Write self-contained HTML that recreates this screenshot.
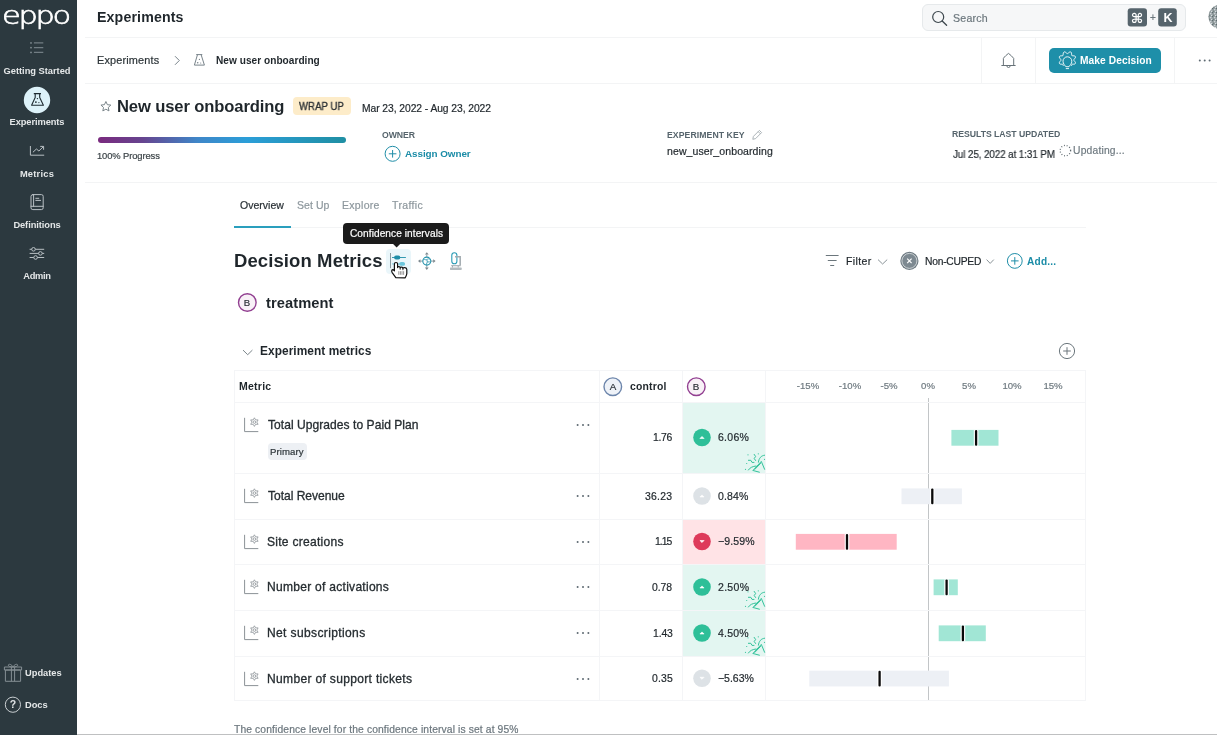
<!DOCTYPE html>
<html><head><meta charset="utf-8"><title>Eppo - New user onboarding</title>
<style>
html,body{margin:0;padding:0}
body{width:1217px;height:735px;overflow:hidden;position:relative;background:#fff;font-family:'Liberation Sans',sans-serif}
.t{position:absolute;white-space:nowrap;line-height:normal;will-change:transform}
svg{position:absolute;overflow:visible}
</style></head><body>
<div style="position:absolute;left:0px;top:0px;width:77px;height:735px;background:#2c393f"></div>
<svg style="left:0;top:0" width="77" height="300" viewBox="0 0 77 300">
<g fill="#717d83"><rect x="30" y="42.2" width="2" height="1.5"/><rect x="30" y="46.9" width="2" height="1.5"/><rect x="30" y="51.7" width="2" height="1.5"/></g>
<g stroke="#717d83" stroke-width="1.2"><path d="M33.9 42.9H43.3M33.9 47.6H43.3M33.9 52.4H43.3"/></g>
<circle cx="37" cy="100" r="13.2" fill="#ddf2f9"/>
<g fill="none" stroke="#1d2a30" stroke-width="1.1" stroke-linejoin="round"><path d="M33.8 93.6H41 M35.2 93.6V97.6L31.6 105.2H43.4L39.7 97.6V93.6"/></g>
<g fill="#1d2a30"><circle cx="37.4" cy="98.6" r="0.7"/><circle cx="35.9" cy="102.1" r="0.9"/><circle cx="38.9" cy="102.6" r="0.6"/></g>
<g fill="none" stroke="#b9c0c4" stroke-width="1" stroke-linecap="round" stroke-linejoin="round">
<path d="M30.4 146.4V155.2H43.8"/><path d="M33.2 152L36.4 149L38.9 151L43.2 146.8M40.6 146.4H43.6V149.4"/>
<rect x="31" y="194.6" width="12.2" height="15" rx="1.8"/><path d="M33.6 194.6V206.3M31 206.3H43.2M35.8 198.3H38.8M35.8 200.4H40.6"/>
<path d="M30 249.3H43.8M30 253.4H43.8M30 257.5H43.8"/>
</g>
<g fill="#2c393f" stroke="#b9c0c4" stroke-width="1"><circle cx="33.5" cy="249.3" r="1.8"/><circle cx="40.4" cy="253.4" r="1.8"/><circle cx="35.6" cy="257.5" r="1.8"/></g>
</svg>
<svg style="left:0;top:650" width="77" height="80" viewBox="0 650 77 80">
<g fill="none" stroke="#858f94" stroke-width="1" stroke-linejoin="round">
<rect x="4.4" y="667" width="17.2" height="3"/><rect x="5.4" y="670" width="15.2" height="11.3"/>
<path d="M11.4 667V681.3M14.6 667V681.3"/>
<path d="M13 667C11.5 664.2 9.2 663.8 8.4 664.8C7.8 665.8 9.5 667 13 667C16.5 667 18.2 665.8 17.6 664.8C16.8 663.8 14.5 664.2 13 667"/>
<circle cx="12.9" cy="704.7" r="7.6" stroke="#c9ced1"/>
</g></svg>
<div style="position:absolute;left:85px;top:37px;width:1132px;height:1px;background:#f3f4f5"></div>
<div style="position:absolute;left:922px;top:4px;width:264px;height:27px;background:#f6f7f8;border:1px solid #e6e9eb;border-radius:6px;box-sizing:border-box"></div>
<svg style="left:900;top:0" width="317" height="40" viewBox="900 0 317 40">
<circle cx="938.2" cy="17" r="5.5" fill="none" stroke="#3d474d" stroke-width="1.2"/><path d="M942.2 21L946.6 25.3" stroke="#3d474d" stroke-width="1.3" stroke-linecap="round"/>
<rect x="1127.7" y="8.2" width="19.3" height="18.4" rx="3" fill="#56646c"/>
<rect x="1158.2" y="8.2" width="18.6" height="18.4" rx="3" fill="#56646c"/>
<defs><pattern id="spk" width="4" height="4" patternUnits="userSpaceOnUse"><rect width="4" height="4" fill="#9aa3a6"/><rect width="1.3" height="1.3" fill="#5f6d70"/><rect x="2" y="1" width="1.3" height="1.3" fill="#cfd6d8"/><rect x="1" y="2.6" width="1.3" height="1.3" fill="#6f7d7c"/><rect x="3" y="3" width="1" height="1" fill="#d8dfe1"/></pattern></defs>
<circle cx="1220.8" cy="16.8" r="12.3" fill="url(#spk)"/>
</svg>
<div style="position:absolute;left:981px;top:37px;width:1px;height:46px;background:#f3f4f5"></div>
<div style="position:absolute;left:1035px;top:37px;width:1px;height:46px;background:#f3f4f5"></div>
<div style="position:absolute;left:1174px;top:37px;width:1px;height:46px;background:#f3f4f5"></div>
<div style="position:absolute;left:1049px;top:47.5px;width:112px;height:25.3px;background:#1e8fa9;border-radius:5px"></div>
<div style="position:absolute;left:85px;top:83px;width:1132px;height:1px;background:#f3f4f5"></div>
<svg style="left:0;top:0" width="1217" height="300" viewBox="0 0 1217 300">
<path d="M175 56.2L179.3 60.5L175 64.8" fill="none" stroke="#78838a" stroke-width="1"/>
<g fill="none" stroke="#78838a" stroke-width="1" stroke-linejoin="round"><path d="M196.2 54.6H202.3 M197.5 54.6L194.4 65.1H204.4L201.1 54.6"/></g>
<g fill="#78838a"><circle cx="199.4" cy="59.4" r="0.6"/><circle cx="197.7" cy="62.7" r="0.8"/><circle cx="200.7" cy="63" r="0.6"/></g>
<g fill="none" stroke="#687379" stroke-width="1" stroke-linejoin="round"><path d="M1001.4 65.5H1015.6M1003.4 65.5V58.4C1004.6 56.4 1006.6 55 1008.5 53.4C1010.4 55 1012.4 56.4 1013.7 58.4V65.5M1006.9 65.9A1.6 1.6 0 0 0 1010.1 65.9"/></g>
<g fill="none" stroke="#ffffff" stroke-width="0.9" stroke-linejoin="round" stroke-linecap="round"><path d="M1063.2 65.4 L1063.1 64.7 L1062.7 64.4 L1062.1 64.2 L1061.2 64.2 L1060.3 64.1 L1059.6 63.7 L1059.3 63.1 L1059.4 62.4 L1059.9 61.6 L1060.5 60.9 L1060.9 60.4 L1061.0 59.9 L1060.7 59.3 L1060.2 58.7 L1059.6 58.0 L1059.3 57.2 L1059.4 56.5 L1060.0 56.1 L1060.8 55.8 L1061.7 55.8 L1062.5 55.7 L1063.0 55.5 L1063.1 54.9 L1063.2 54.1 L1063.3 53.2 L1063.6 52.4 L1064.1 51.9 L1064.8 51.9 L1065.6 52.3 L1066.3 52.9 L1066.9 53.4 L1067.4 53.6 L1067.9 53.4 L1068.5 52.9 L1069.2 52.3 L1070.0 51.9 L1070.7 51.9 L1071.2 52.4 L1071.5 53.2 L1071.6 54.1 L1071.7 54.9 L1071.8 55.5 L1072.3 55.7 L1073.1 55.8 L1074.0 55.8 L1074.8 56.1 L1075.4 56.5 L1075.5 57.2 L1075.2 58.0 L1074.6 58.7 L1074.1 59.3 L1073.8 59.9 L1073.9 60.4 L1074.3 60.9 L1074.9 61.6 L1075.4 62.4 L1075.5 63.1 L1075.2 63.7 L1074.5 64.1 L1073.6 64.2 L1072.7 64.2 L1072.1 64.4 L1071.7 64.7 L1071.6 65.4"/>
<path d="M1065.6 66.4L1064.2 64.6C1063.4 63.6 1063 62.4 1063 61.2A4.4 4.4 0 0 1 1071.8 61.2C1071.8 62.4 1071.4 63.6 1070.6 64.6L1069.2 66.4Z"/>
<path d="M1066.2 68.6H1068.6"/></g>
<g fill="#5e6a72"><circle cx="1199.8" cy="60.4" r="1"/><circle cx="1204.7" cy="60.4" r="1"/><circle cx="1209.6" cy="60.4" r="1"/></g>
</svg>
<svg style="left:0;top:0" width="1217" height="300" viewBox="0 0 1217 300">
<path d="M105.90 101.50L107.37 104.68L110.85 105.09L108.28 107.47L108.96 110.91L105.90 109.20L102.84 110.91L103.52 107.47L100.95 105.09L104.43 104.68Z" fill="none" stroke="#7a858a" stroke-width="1" stroke-linejoin="round"/>
<defs><linearGradient id="pg" x1="0" x2="1"><stop offset="0" stop-color="#7a2a7e"/><stop offset="0.18" stop-color="#66448f"/><stop offset="0.4" stop-color="#3f86c8"/><stop offset="0.6" stop-color="#2b9ed8"/><stop offset="1" stop-color="#1f8fa3"/></linearGradient></defs>
<rect x="98" y="137" width="248" height="6" rx="3" fill="url(#pg)"/>
<circle cx="392.6" cy="153.8" r="7.5" fill="none" stroke="#1f8ea8" stroke-width="1"/><path d="M388.8 153.8H396.4M392.6 150V157.6" stroke="#1f8ea8" stroke-width="1"/>
<path d="M752.8 139.3L753.4 136.4L759.4 130.4L761.6 132.6L755.6 138.6Z M758.2 131.6L760.4 133.8" fill="none" stroke="#a3abb0" stroke-width="0.9" stroke-linejoin="round"/>
<circle cx="1065.4" cy="150.6" r="5.2" fill="none" stroke="#5c676d" stroke-width="1.3" stroke-dasharray="0.9 1.9"/>
</svg>
<div style="position:absolute;left:293.2px;top:96.9px;width:57.5px;height:18.4px;background:#fdecc9;border-radius:4px"></div>
<div style="position:absolute;left:85px;top:182px;width:1132px;height:1px;background:#f3f4f5"></div>
<div style="position:absolute;left:234px;top:227px;width:852px;height:1px;background:#f3f4f5"></div>
<div style="position:absolute;left:234px;top:226px;width:57px;height:2px;background:#2a9fbd"></div>
<div style="position:absolute;left:385.7px;top:248.7px;width:25.3px;height:24.9px;background:#eaf6fa;border-radius:4px"></div>
<svg style="left:0;top:0" width="1217" height="400" viewBox="0 0 1217 400">
<path d="M390.5 253V268.2" stroke="#8a9aa0" stroke-width="1"/>
<path d="M392 257.5H405.9" stroke="#1f8ea8" stroke-width="0.9"/><rect x="394.1" y="255.6" width="6.2" height="3.8" rx="1.9" fill="#1f8ea8"/>
<path d="M392 263.9H405" stroke="#6cc6dc" stroke-width="0.9"/><rect x="399.2" y="262" width="5.8" height="3.8" rx="1.9" fill="#6cc6dc"/>
<path d="M395.8 277.6L392.2 272.6C391.2 271.1 391.8 269.4 393.2 269.7L394.4 270.8V263.9C394.4 262 397.6 262 397.6 263.9V267.6C397.6 266.3 400.2 266.3 400.2 267.8V268C400.2 266.7 402.9 266.7 402.9 268.2V268.6C403 267.1 406.8 267.2 406.8 269.6V273.6C406.8 275.4 405.8 276.5 405.2 277.8Z" fill="#fff" stroke="#111" stroke-width="1.2" stroke-linejoin="round"/>
<path d="M398.8 271.2V274.8M400.4 271.2V274.8M402 271.2V274.8M403.6 271.2V274.8" stroke="#8a8a8a" stroke-width="0.9"/>
<path d="M400.2 268V269.8M402.9 268.4V270.2" stroke="#111" stroke-width="0.8"/>
<path d="M420 261.1H422.6M431 261.1H433.6M426.8 254.4V256.9M426.8 265.3V267.8" stroke="#8a969c" stroke-width="0.9"/>
<path d="M418 261.1L420.4 259.2V263Z M435.6 261.1L433.2 259.2V263Z M426.8 252.2L424.9 254.6H428.7Z M426.8 270L424.9 267.6H428.7Z" fill="#7d898f"/>
<circle cx="426.8" cy="261.1" r="4" fill="none" stroke="#2391ab" stroke-width="1.1"/>
<path d="M423.4 259.8C424.6 258.6 425.8 260.6 426.9 259.6C427.9 258.7 428.9 258.5 430 259.4M426.9 259.6L427.3 261.9H429.8M427.3 261.9L426.2 264.9" fill="none" stroke="#2391ab" stroke-width="0.8"/>
<rect x="451.8" y="252.7" width="5.1" height="11" rx="2.55" fill="none" stroke="#2a9bb5" stroke-width="1.1"/>
<path d="M455 256.7H460.2V265.2" fill="none" stroke="#a2abb0" stroke-width="1.5"/>
<path d="M451.2 265.7H460.8" stroke="#a2abb0" stroke-width="1.1"/>
<path d="M452.5 265.7V267.6M458.2 265.7V267.6" stroke="#a2abb0" stroke-width="1"/>
<rect x="450" y="267.6" width="11.7" height="2.3" rx="0.6" fill="#b3babe"/>
<path d="M392.6 243.6H400.6L396.6 247.6Z" fill="#1b1b1b"/>
<path d="M825.8 255.5H838.6M827.8 260.5H836.6M830.2 265.5H834.2" stroke="#6b767c" stroke-width="1"/>
<path d="M878 259.6L882.6 264L887.2 259.6M986.6 259.6L990.2 263.4L993.8 259.6" fill="none" stroke="#7d878c" stroke-width="0.9"/>
<circle cx="909.4" cy="260.9" r="9.1" fill="#6e7a82"/>
<circle cx="909.4" cy="260.9" r="7.5" fill="#7d8991" stroke="#e3e7e9" stroke-width="0.8"/>
<path d="M907.2 258.7L911.6 263.1M911.6 258.7L907.2 263.1" stroke="#fff" stroke-width="1.2"/>
<circle cx="1014.8" cy="260.9" r="7.4" fill="none" stroke="#1f8ea8" stroke-width="1"/><path d="M1011 260.9H1018.6M1014.8 257.1V264.7" stroke="#1f8ea8" stroke-width="1"/>
<circle cx="247.3" cy="302.5" r="8.8" fill="#f8f1f7" stroke="#913e90" stroke-width="1.4"/>
<path d="M243 350.1L247.7 354.7L252.4 350.1" fill="none" stroke="#6b767c" stroke-width="0.9"/>
<circle cx="1067" cy="351" r="7.6" fill="none" stroke="#6c777d" stroke-width="1"/><path d="M1063.2 351H1070.8M1067 347.2V354.8" stroke="#6c777d" stroke-width="1"/>
</svg>
<div style="position:absolute;left:343.3px;top:222.9px;width:105.6px;height:20.7px;background:#1b1b1b;border-radius:4px"></div>
<div style="position:absolute;left:683px;top:403px;width:82px;height:70px;background:#e3f6f1"></div>
<div style="position:absolute;left:683px;top:520px;width:82px;height:44px;background:#ffe3e6"></div>
<div style="position:absolute;left:683px;top:565px;width:82px;height:45px;background:#e3f6f1"></div>
<div style="position:absolute;left:683px;top:611px;width:82px;height:45px;background:#e3f6f1"></div>
<div style="position:absolute;left:928px;top:398px;width:1px;height:303px;background:#c2c5c7"></div>
<div style="position:absolute;left:234px;top:370px;width:852px;height:331px;border:1px solid #f4f5f7;box-sizing:border-box"></div>
<div style="position:absolute;left:599px;top:370px;width:1px;height:331px;background:#f4f5f7"></div>
<div style="position:absolute;left:682px;top:370px;width:1px;height:331px;background:#f4f5f7"></div>
<div style="position:absolute;left:765px;top:370px;width:1px;height:331px;background:#f4f5f7"></div>
<div style="position:absolute;left:234px;top:402px;width:852px;height:1px;background:#f4f5f7"></div>
<div style="position:absolute;left:234px;top:473px;width:852px;height:1px;background:#f4f5f7"></div>
<div style="position:absolute;left:234px;top:519px;width:852px;height:1px;background:#f4f5f7"></div>
<div style="position:absolute;left:234px;top:564px;width:852px;height:1px;background:#f4f5f7"></div>
<div style="position:absolute;left:234px;top:610px;width:852px;height:1px;background:#f4f5f7"></div>
<div style="position:absolute;left:234px;top:656px;width:852px;height:1px;background:#f4f5f7"></div>
<svg style="left:0;top:0" width="1217" height="735" viewBox="0 0 1217 735"><circle cx="612.8" cy="386.7" r="8.8" fill="#eef2f8" stroke="#6c85ab" stroke-width="1.4"/><circle cx="696.3" cy="386.7" r="8.8" fill="#f8f1f7" stroke="#913e90" stroke-width="1.4"/><path d="M244.6 417.8V431.6H258.3" fill="none" stroke="#8c9297" stroke-width="1"/><g transform="translate(254.4 422.1)" fill="none" stroke="#8c9297" stroke-width="0.8"><path d="M0 -4.3L1.2 -2.2L3.7 -2.2L2.4 0L3.7 2.2L1.2 2.2L0 4.3L-1.2 2.2L-3.7 2.2L-2.4 0L-3.7 -2.2L-1.2 -2.2Z"/><circle r="1.3"/></g><circle cx="577.6" cy="425.0" r="1" fill="#5e6a72"/><circle cx="583" cy="425.0" r="1" fill="#5e6a72"/><circle cx="588.4" cy="425.0" r="1" fill="#5e6a72"/><circle cx="702" cy="437.50" r="8.8" fill="#2ebf98"/><path d="M699.9 438.50L702 436.40L704.1 438.50Z" fill="#fff" stroke="#fff" stroke-width="0.6" stroke-linejoin="round"/><rect x="951.4" y="429.90" width="47.1" height="15.8" fill="#a1e6d5"/><rect x="973.8" y="429.90" width="4.6" height="15.8" fill="#fff"/><rect x="974.95" y="430.00" width="2.3" height="15.8" rx="1.1" fill="#0a0a0a"/><g transform="translate(742 449.0)" fill="none" stroke="#33c29b" stroke-width="1" stroke-linecap="round" stroke-linejoin="round"><path d="M6.4 21C7.8 18.6 10.6 17.4 14 17M11 21.4L19.3 12.4L22.6 20.3M11.4 21.6L17.4 23.2M12.8 20.4L18.6 14.4M16.4 13.2C16.9 9.2 19 6.6 22.6 6.2M12.2 5.4L13.6 7.5L12.2 9.5L13.6 11.5M6.4 11.3H8.8L10 13.4H12"/></g><g fill="#33c29b" transform="translate(742 449.0)"><circle cx="6" cy="5.8" r="0.6"/><circle cx="16.3" cy="4.8" r="0.6"/><circle cx="22.5" cy="10.3" r="0.6"/><circle cx="4.7" cy="14.5" r="0.6"/><circle cx="3.5" cy="20.3" r="0.6"/></g><path d="M244.6 488.8V502.6H258.3" fill="none" stroke="#8c9297" stroke-width="1"/><g transform="translate(254.4 493.1)" fill="none" stroke="#8c9297" stroke-width="0.8"><path d="M0 -4.3L1.2 -2.2L3.7 -2.2L2.4 0L3.7 2.2L1.2 2.2L0 4.3L-1.2 2.2L-3.7 2.2L-2.4 0L-3.7 -2.2L-1.2 -2.2Z"/><circle r="1.3"/></g><circle cx="577.6" cy="496.0" r="1" fill="#5e6a72"/><circle cx="583" cy="496.0" r="1" fill="#5e6a72"/><circle cx="588.4" cy="496.0" r="1" fill="#5e6a72"/><circle cx="702" cy="496.00" r="8.8" fill="#dde2e6"/><path d="M699.9 497.00L702 494.90L704.1 497.00Z" fill="#fff" stroke="#fff" stroke-width="0.6" stroke-linejoin="round"/><rect x="901.5" y="488.40" width="60.4" height="15.8" fill="#edf0f5"/><rect x="930.0" y="488.40" width="4.6" height="15.8" fill="#fff"/><rect x="931.15" y="488.50" width="2.3" height="15.8" rx="1.1" fill="#0a0a0a"/><path d="M244.6 534.8V548.6H258.3" fill="none" stroke="#8c9297" stroke-width="1"/><g transform="translate(254.4 539.1)" fill="none" stroke="#8c9297" stroke-width="0.8"><path d="M0 -4.3L1.2 -2.2L3.7 -2.2L2.4 0L3.7 2.2L1.2 2.2L0 4.3L-1.2 2.2L-3.7 2.2L-2.4 0L-3.7 -2.2L-1.2 -2.2Z"/><circle r="1.3"/></g><circle cx="577.6" cy="542.0" r="1" fill="#5e6a72"/><circle cx="583" cy="542.0" r="1" fill="#5e6a72"/><circle cx="588.4" cy="542.0" r="1" fill="#5e6a72"/><circle cx="702" cy="541.50" r="8.8" fill="#de3a5a"/><path d="M699.9 540.50L702 542.60L704.1 540.50Z" fill="#fff" stroke="#fff" stroke-width="0.6" stroke-linejoin="round"/><rect x="795.8" y="533.90" width="100.9" height="15.8" fill="#ffb6c3"/><rect x="844.7" y="533.90" width="4.6" height="15.8" fill="#fff"/><rect x="845.85" y="534.00" width="2.3" height="15.8" rx="1.1" fill="#0a0a0a"/><path d="M244.6 579.8V593.6H258.3" fill="none" stroke="#8c9297" stroke-width="1"/><g transform="translate(254.4 584.1)" fill="none" stroke="#8c9297" stroke-width="0.8"><path d="M0 -4.3L1.2 -2.2L3.7 -2.2L2.4 0L3.7 2.2L1.2 2.2L0 4.3L-1.2 2.2L-3.7 2.2L-2.4 0L-3.7 -2.2L-1.2 -2.2Z"/><circle r="1.3"/></g><circle cx="577.6" cy="587.0" r="1" fill="#5e6a72"/><circle cx="583" cy="587.0" r="1" fill="#5e6a72"/><circle cx="588.4" cy="587.0" r="1" fill="#5e6a72"/><circle cx="702" cy="587.00" r="8.8" fill="#2ebf98"/><path d="M699.9 588.00L702 585.90L704.1 588.00Z" fill="#fff" stroke="#fff" stroke-width="0.6" stroke-linejoin="round"/><rect x="933.6" y="579.40" width="24.2" height="15.8" fill="#a1e6d5"/><rect x="944.3" y="579.40" width="4.6" height="15.8" fill="#fff"/><rect x="945.45" y="579.50" width="2.3" height="15.8" rx="1.1" fill="#0a0a0a"/><g transform="translate(742 586.0)" fill="none" stroke="#33c29b" stroke-width="1" stroke-linecap="round" stroke-linejoin="round"><path d="M6.4 21C7.8 18.6 10.6 17.4 14 17M11 21.4L19.3 12.4L22.6 20.3M11.4 21.6L17.4 23.2M12.8 20.4L18.6 14.4M16.4 13.2C16.9 9.2 19 6.6 22.6 6.2M12.2 5.4L13.6 7.5L12.2 9.5L13.6 11.5M6.4 11.3H8.8L10 13.4H12"/></g><g fill="#33c29b" transform="translate(742 586.0)"><circle cx="6" cy="5.8" r="0.6"/><circle cx="16.3" cy="4.8" r="0.6"/><circle cx="22.5" cy="10.3" r="0.6"/><circle cx="4.7" cy="14.5" r="0.6"/><circle cx="3.5" cy="20.3" r="0.6"/></g><path d="M244.6 625.8V639.6H258.3" fill="none" stroke="#8c9297" stroke-width="1"/><g transform="translate(254.4 630.1)" fill="none" stroke="#8c9297" stroke-width="0.8"><path d="M0 -4.3L1.2 -2.2L3.7 -2.2L2.4 0L3.7 2.2L1.2 2.2L0 4.3L-1.2 2.2L-3.7 2.2L-2.4 0L-3.7 -2.2L-1.2 -2.2Z"/><circle r="1.3"/></g><circle cx="577.6" cy="633.0" r="1" fill="#5e6a72"/><circle cx="583" cy="633.0" r="1" fill="#5e6a72"/><circle cx="588.4" cy="633.0" r="1" fill="#5e6a72"/><circle cx="702" cy="633.00" r="8.8" fill="#2ebf98"/><path d="M699.9 634.00L702 631.90L704.1 634.00Z" fill="#fff" stroke="#fff" stroke-width="0.6" stroke-linejoin="round"/><rect x="938.7" y="625.40" width="47.1" height="15.8" fill="#a1e6d5"/><rect x="960.6" y="625.40" width="4.6" height="15.8" fill="#fff"/><rect x="961.75" y="625.50" width="2.3" height="15.8" rx="1.1" fill="#0a0a0a"/><g transform="translate(742 632.0)" fill="none" stroke="#33c29b" stroke-width="1" stroke-linecap="round" stroke-linejoin="round"><path d="M6.4 21C7.8 18.6 10.6 17.4 14 17M11 21.4L19.3 12.4L22.6 20.3M11.4 21.6L17.4 23.2M12.8 20.4L18.6 14.4M16.4 13.2C16.9 9.2 19 6.6 22.6 6.2M12.2 5.4L13.6 7.5L12.2 9.5L13.6 11.5M6.4 11.3H8.8L10 13.4H12"/></g><g fill="#33c29b" transform="translate(742 632.0)"><circle cx="6" cy="5.8" r="0.6"/><circle cx="16.3" cy="4.8" r="0.6"/><circle cx="22.5" cy="10.3" r="0.6"/><circle cx="4.7" cy="14.5" r="0.6"/><circle cx="3.5" cy="20.3" r="0.6"/></g><path d="M244.6 671.8V685.6H258.3" fill="none" stroke="#8c9297" stroke-width="1"/><g transform="translate(254.4 676.1)" fill="none" stroke="#8c9297" stroke-width="0.8"><path d="M0 -4.3L1.2 -2.2L3.7 -2.2L2.4 0L3.7 2.2L1.2 2.2L0 4.3L-1.2 2.2L-3.7 2.2L-2.4 0L-3.7 -2.2L-1.2 -2.2Z"/><circle r="1.3"/></g><circle cx="577.6" cy="679.0" r="1" fill="#5e6a72"/><circle cx="583" cy="679.0" r="1" fill="#5e6a72"/><circle cx="588.4" cy="679.0" r="1" fill="#5e6a72"/><circle cx="702" cy="678.25" r="8.8" fill="#dde2e6"/><path d="M699.9 677.25L702 679.35L704.1 677.25Z" fill="#fff" stroke="#fff" stroke-width="0.6" stroke-linejoin="round"/><rect x="809.3" y="670.65" width="139.6" height="15.8" fill="#edf0f5"/><rect x="877.3" y="670.65" width="4.6" height="15.8" fill="#fff"/><rect x="878.45" y="670.75" width="2.3" height="15.8" rx="1.1" fill="#0a0a0a"/></svg>
<div style="position:absolute;left:267.7px;top:442.8px;width:38.9px;height:17.2px;background:#edf0f4;border-radius:4px"></div>
<div style="position:absolute;left:77px;top:734px;width:1140px;height:1px;background:#bfc0c1"></div>
<div class="t" style="left:2.46px;top:0.70px;font-family:'DejaVu Sans',sans-serif;font-size:25px;font-weight:200;color:#ffffff;letter-spacing:-1.904px;-webkit-text-stroke:0.7px #fff;transform:scaleX(1.22);transform-origin:0 0;">eppo</div>
<div class="t" style="left:-113px;width:300px;text-align:center;top:66.20px;font-family:'Liberation Sans',sans-serif;font-size:9.3px;font-weight:700;color:#e4e7e8;letter-spacing:-0.012px;">Getting Started</div>
<div class="t" style="left:-113px;width:300px;text-align:center;top:117.20px;font-family:'Liberation Sans',sans-serif;font-size:9.3px;font-weight:700;color:#e4e7e8;letter-spacing:-0.082px;">Experiments</div>
<div class="t" style="left:-113px;width:300px;text-align:center;top:168.80px;font-family:'Liberation Sans',sans-serif;font-size:9.3px;font-weight:700;color:#e4e7e8;letter-spacing:0.238px;">Metrics</div>
<div class="t" style="left:-113px;width:300px;text-align:center;top:219.90px;font-family:'Liberation Sans',sans-serif;font-size:9.3px;font-weight:700;color:#e4e7e8;letter-spacing:-0.076px;">Definitions</div>
<div class="t" style="left:-113.5px;width:300px;text-align:center;top:270.90px;font-family:'Liberation Sans',sans-serif;font-size:9.3px;font-weight:700;color:#e4e7e8;letter-spacing:-0.283px;">Admin</div>
<div class="t" style="left:-137.1px;width:300px;text-align:center;top:698.20px;font-family:'Liberation Sans',sans-serif;font-size:10.5px;font-weight:700;color:#dfe3e5;">?</div>
<div class="t" style="left:25.04px;top:667.90px;font-family:'Liberation Sans',sans-serif;font-size:9.3px;font-weight:700;color:#e4e7e8;letter-spacing:0.007px;">Updates</div>
<div class="t" style="left:25.00px;top:699.80px;font-family:'Liberation Sans',sans-serif;font-size:9.3px;font-weight:700;color:#e4e7e8;letter-spacing:-0.054px;">Docs</div>
<div class="t" style="left:97.08px;top:9.20px;font-family:'Liberation Sans',sans-serif;font-size:14.2px;font-weight:700;color:#1f262b;letter-spacing:0.129px;">Experiments</div>
<div class="t" style="left:953.02px;top:11.80px;font-family:'Liberation Sans',sans-serif;font-size:10.6px;font-weight:400;color:#6c777d;letter-spacing:0.223px;-webkit-text-stroke:0.2px #6c777d;">Search</div>
<div class="t" style="left:987.3px;width:300px;text-align:center;top:9.80px;font-family:'DejaVu Sans',sans-serif;font-size:13.5px;font-weight:700;color:#ffffff;">⌘</div>
<div class="t" style="left:1002.5999999999999px;width:300px;text-align:center;top:12.30px;font-family:'Liberation Sans',sans-serif;font-size:10px;font-weight:400;color:#6c777d;-webkit-text-stroke:0.2px #6c777d;">+</div>
<div class="t" style="left:1017.5px;width:300px;text-align:center;top:11.40px;font-family:'Liberation Sans',sans-serif;font-size:12.5px;font-weight:700;color:#ffffff;">K</div>
<div class="t" style="left:97.13px;top:54.10px;font-family:'Liberation Sans',sans-serif;font-size:10.9px;font-weight:400;color:#2c3438;letter-spacing:0.165px;-webkit-text-stroke:0.2px #2c3438;">Experiments</div>
<div class="t" style="left:216.34px;top:55.10px;font-family:'Liberation Sans',sans-serif;font-size:10.1px;font-weight:700;color:#1f262b;letter-spacing:0.033px;">New user onboarding</div>
<div class="t" style="left:1080.14px;top:55.20px;font-family:'Liberation Sans',sans-serif;font-size:10.2px;font-weight:700;color:#ffffff;letter-spacing:0.078px;">Make Decision</div>
<div class="t" style="left:116.52px;top:97.10px;font-family:'Liberation Sans',sans-serif;font-size:16.6px;font-weight:700;color:#1f262b;letter-spacing:-0.127px;">New user onboarding</div>
<div class="t" style="left:299.35px;top:100.20px;font-family:'Liberation Sans',sans-serif;font-size:10.6px;font-weight:400;color:#2b3034;letter-spacing:0.113px;-webkit-text-stroke:0.35px #2b3034;transform:scaleX(0.9);transform-origin:0 0;">WRAP UP</div>
<div class="t" style="left:361.88px;top:103.30px;font-family:'Liberation Sans',sans-serif;font-size:10.3px;font-weight:400;color:#1f262b;letter-spacing:-0.058px;-webkit-text-stroke:0.2px #1f262b;">Mar 23, 2022 - Aug 23, 2022</div>
<div class="t" style="left:97.30px;top:149.60px;font-family:'Liberation Sans',sans-serif;font-size:9.4px;font-weight:400;color:#3b4347;letter-spacing:-0.101px;-webkit-text-stroke:0.2px #3b4347;">100% Progress</div>
<div class="t" style="left:382.45px;top:129.90px;font-family:'Liberation Sans',sans-serif;font-size:8.7px;font-weight:700;color:#56646c;letter-spacing:-0.100px;">OWNER</div>
<div class="t" style="left:405.05px;top:148.10px;font-family:'Liberation Sans',sans-serif;font-size:9.9px;font-weight:700;color:#1b8ca7;letter-spacing:-0.062px;">Assign Owner</div>
<div class="t" style="left:667.23px;top:129.50px;font-family:'Liberation Sans',sans-serif;font-size:8.7px;font-weight:700;color:#56646c;letter-spacing:0.064px;">EXPERIMENT KEY</div>
<div class="t" style="left:667.12px;top:144.50px;font-family:'Liberation Sans',sans-serif;font-size:10.5px;font-weight:400;color:#1f262b;letter-spacing:0.104px;-webkit-text-stroke:0.2px #1f262b;">new_user_onboarding</div>
<div class="t" style="left:952.23px;top:128.70px;font-family:'Liberation Sans',sans-serif;font-size:8.7px;font-weight:700;color:#56646c;letter-spacing:-0.030px;">RESULTS LAST UPDATED</div>
<div class="t" style="left:952.65px;top:148.50px;font-family:'Liberation Sans',sans-serif;font-size:10.3px;font-weight:400;color:#1f262b;letter-spacing:-0.067px;transform:scaleX(0.95);transform-origin:0 0;-webkit-text-stroke:0.2px #1f262b;">Jul 25, 2022 at 1:31 PM</div>
<div class="t" style="left:1073.03px;top:145.30px;font-family:'Liberation Sans',sans-serif;font-size:10.3px;font-weight:400;color:#6f7a80;letter-spacing:0.190px;-webkit-text-stroke:0.2px #6f7a80;">Updating...</div>
<div class="t" style="left:240.33px;top:198.90px;font-family:'Liberation Sans',sans-serif;font-size:10.5px;font-weight:400;color:#2a3136;letter-spacing:0.012px;-webkit-text-stroke:0.2px #2a3136;">Overview</div>
<div class="t" style="left:297.13px;top:198.90px;font-family:'Liberation Sans',sans-serif;font-size:10.5px;font-weight:400;color:#8d979d;letter-spacing:0.063px;-webkit-text-stroke:0.2px #8d979d;">Set Up</div>
<div class="t" style="left:341.86px;top:198.90px;font-family:'Liberation Sans',sans-serif;font-size:10.5px;font-weight:400;color:#8d979d;letter-spacing:0.303px;-webkit-text-stroke:0.2px #8d979d;">Explore</div>
<div class="t" style="left:392.09px;top:198.90px;font-family:'Liberation Sans',sans-serif;font-size:10.5px;font-weight:400;color:#8d979d;letter-spacing:0.360px;-webkit-text-stroke:0.2px #8d979d;">Traffic</div>
<div class="t" style="left:234.00px;top:249.70px;font-family:'Liberation Sans',sans-serif;font-size:18.5px;font-weight:700;color:#1f262b;letter-spacing:0.097px;">Decision Metrics</div>
<div class="t" style="left:349.69px;top:228.10px;font-family:'Liberation Sans',sans-serif;font-size:10.1px;font-weight:400;color:#ffffff;letter-spacing:0.082px;-webkit-text-stroke:0.2px #ffffff;">Confidence intervals</div>
<div class="t" style="left:845.96px;top:254.50px;font-family:'Liberation Sans',sans-serif;font-size:10.5px;font-weight:400;color:#1f262b;letter-spacing:0.358px;-webkit-text-stroke:0.2px #1f262b;">Filter</div>
<div class="t" style="left:925.08px;top:255.50px;font-family:'Liberation Sans',sans-serif;font-size:10.3px;font-weight:400;color:#1f262b;letter-spacing:-0.245px;-webkit-text-stroke:0.2px #1f262b;">Non-CUPED</div>
<div class="t" style="left:1027.35px;top:255.50px;font-family:'Liberation Sans',sans-serif;font-size:10.1px;font-weight:700;color:#1b8ca7;letter-spacing:0.216px;">Add...</div>
<div class="t" style="left:97.4px;width:300px;text-align:center;top:297.00px;font-family:'Liberation Sans',sans-serif;font-size:9.6px;font-weight:400;color:#2a3136;-webkit-text-stroke:0.2px #2a3136;">B</div>
<div class="t" style="left:265.85px;top:294.80px;font-family:'Liberation Sans',sans-serif;font-size:14.7px;font-weight:700;color:#1f262b;letter-spacing:0.067px;">treatment</div>
<div class="t" style="left:260.13px;top:344.00px;font-family:'Liberation Sans',sans-serif;font-size:11.9px;font-weight:700;color:#1f262b;letter-spacing:0.054px;">Experiment metrics</div>
<div class="t" style="left:270.23px;top:445.60px;font-family:'Liberation Sans',sans-serif;font-size:9.6px;font-weight:400;color:#2f373b;letter-spacing:0.083px;-webkit-text-stroke:0.2px #2f373b;">Primary</div>
<div class="t" style="left:239.12px;top:379.70px;font-family:'Liberation Sans',sans-serif;font-size:10.5px;font-weight:700;color:#1f262b;letter-spacing:0.255px;">Metric</div>
<div class="t" style="left:463px;width:300px;text-align:center;top:381.20px;font-family:'Liberation Sans',sans-serif;font-size:9.8px;font-weight:400;color:#2a3136;-webkit-text-stroke:0.2px #2a3136;">A</div>
<div class="t" style="left:630.38px;top:380.60px;font-family:'Liberation Sans',sans-serif;font-size:10.4px;font-weight:700;color:#1f262b;letter-spacing:0.181px;">control</div>
<div class="t" style="left:546.4px;width:300px;text-align:center;top:381.20px;font-family:'Liberation Sans',sans-serif;font-size:9.8px;font-weight:400;color:#2a3136;-webkit-text-stroke:0.2px #2a3136;">B</div>
<div class="t" style="left:658.3px;width:300px;text-align:center;top:380.40px;font-family:'Liberation Sans',sans-serif;font-size:9.6px;font-weight:400;color:#6f7a80;-webkit-text-stroke:0.2px #6f7a80;">-15%</div>
<div class="t" style="left:699.7px;width:300px;text-align:center;top:380.40px;font-family:'Liberation Sans',sans-serif;font-size:9.6px;font-weight:400;color:#6f7a80;-webkit-text-stroke:0.2px #6f7a80;">-10%</div>
<div class="t" style="left:738.6px;width:300px;text-align:center;top:380.40px;font-family:'Liberation Sans',sans-serif;font-size:9.6px;font-weight:400;color:#6f7a80;-webkit-text-stroke:0.2px #6f7a80;">-5%</div>
<div class="t" style="left:778.2px;width:300px;text-align:center;top:380.40px;font-family:'Liberation Sans',sans-serif;font-size:9.6px;font-weight:400;color:#6f7a80;-webkit-text-stroke:0.2px #6f7a80;">0%</div>
<div class="t" style="left:819px;width:300px;text-align:center;top:380.40px;font-family:'Liberation Sans',sans-serif;font-size:9.6px;font-weight:400;color:#6f7a80;-webkit-text-stroke:0.2px #6f7a80;">5%</div>
<div class="t" style="left:862.2px;width:300px;text-align:center;top:380.40px;font-family:'Liberation Sans',sans-serif;font-size:9.6px;font-weight:400;color:#6f7a80;-webkit-text-stroke:0.2px #6f7a80;">10%</div>
<div class="t" style="left:902.8px;width:300px;text-align:center;top:380.40px;font-family:'Liberation Sans',sans-serif;font-size:9.6px;font-weight:400;color:#6f7a80;-webkit-text-stroke:0.2px #6f7a80;">15%</div>
<div class="t" style="left:267.76px;top:418.00px;font-family:'Liberation Sans',sans-serif;font-size:12.05px;font-weight:400;color:#262d31;letter-spacing:0.045px;-webkit-text-stroke:0.3px #262d31;">Total Upgrades to Paid Plan</div>
<div class="t" style="left:653.22px;top:432.20px;font-family:'Liberation Sans',sans-serif;font-size:10.4px;font-weight:400;color:#1f262b;letter-spacing:-0.344px;-webkit-text-stroke:0.2px #1f262b;">1.76</div>
<div class="t" style="left:717.68px;top:431.20px;font-family:'Liberation Sans',sans-serif;font-size:10.5px;font-weight:400;color:#1f262b;letter-spacing:0.281px;-webkit-text-stroke:0.2px #1f262b;">6.06%</div>
<div class="t" style="left:267.76px;top:489.00px;font-family:'Liberation Sans',sans-serif;font-size:12.05px;font-weight:400;color:#262d31;letter-spacing:-0.026px;-webkit-text-stroke:0.3px #262d31;">Total Revenue</div>
<div class="t" style="left:645.48px;top:490.70px;font-family:'Liberation Sans',sans-serif;font-size:10.4px;font-weight:400;color:#1f262b;letter-spacing:0.233px;-webkit-text-stroke:0.2px #1f262b;">36.23</div>
<div class="t" style="left:717.78px;top:489.70px;font-family:'Liberation Sans',sans-serif;font-size:10.5px;font-weight:400;color:#1f262b;letter-spacing:0.155px;-webkit-text-stroke:0.2px #1f262b;">0.84%</div>
<div class="t" style="left:267.46px;top:535.00px;font-family:'Liberation Sans',sans-serif;font-size:12.05px;font-weight:400;color:#262d31;letter-spacing:0.272px;-webkit-text-stroke:0.3px #262d31;">Site creations</div>
<div class="t" style="left:655.22px;top:536.20px;font-family:'Liberation Sans',sans-serif;font-size:10.4px;font-weight:400;color:#1f262b;letter-spacing:-1.011px;-webkit-text-stroke:0.2px #1f262b;">1.15</div>
<div class="t" style="left:717.68px;top:535.20px;font-family:'Liberation Sans',sans-serif;font-size:10.5px;font-weight:400;color:#1f262b;letter-spacing:0.156px;-webkit-text-stroke:0.2px #1f262b;">−9.59%</div>
<div class="t" style="left:267.04px;top:580.00px;font-family:'Liberation Sans',sans-serif;font-size:12.05px;font-weight:400;color:#262d31;letter-spacing:0.268px;-webkit-text-stroke:0.3px #262d31;">Number of activations</div>
<div class="t" style="left:652.48px;top:581.70px;font-family:'Liberation Sans',sans-serif;font-size:10.4px;font-weight:400;color:#1f262b;letter-spacing:-0.099px;-webkit-text-stroke:0.2px #1f262b;">0.78</div>
<div class="t" style="left:717.68px;top:580.70px;font-family:'Liberation Sans',sans-serif;font-size:10.5px;font-weight:400;color:#1f262b;letter-spacing:0.306px;-webkit-text-stroke:0.2px #1f262b;">2.50%</div>
<div class="t" style="left:267.04px;top:626.00px;font-family:'Liberation Sans',sans-serif;font-size:12.05px;font-weight:400;color:#262d31;letter-spacing:0.360px;-webkit-text-stroke:0.3px #262d31;">Net subscriptions</div>
<div class="t" style="left:652.52px;top:627.70px;font-family:'Liberation Sans',sans-serif;font-size:10.4px;font-weight:400;color:#1f262b;letter-spacing:-0.111px;-webkit-text-stroke:0.2px #1f262b;">1.43</div>
<div class="t" style="left:717.99px;top:626.70px;font-family:'Liberation Sans',sans-serif;font-size:10.5px;font-weight:400;color:#1f262b;letter-spacing:0.202px;-webkit-text-stroke:0.2px #1f262b;">4.50%</div>
<div class="t" style="left:267.04px;top:672.00px;font-family:'Liberation Sans',sans-serif;font-size:12.05px;font-weight:400;color:#262d31;letter-spacing:0.320px;-webkit-text-stroke:0.3px #262d31;">Number of support tickets</div>
<div class="t" style="left:651.58px;top:672.95px;font-family:'Liberation Sans',sans-serif;font-size:10.4px;font-weight:400;color:#1f262b;letter-spacing:0.201px;-webkit-text-stroke:0.2px #1f262b;">0.35</div>
<div class="t" style="left:717.68px;top:671.95px;font-family:'Liberation Sans',sans-serif;font-size:10.5px;font-weight:400;color:#1f262b;letter-spacing:-0.023px;-webkit-text-stroke:0.2px #1f262b;">−5.63%</div>
<div class="t" style="left:233.59px;top:724.00px;font-family:'Liberation Sans',sans-serif;font-size:10.3px;font-weight:400;color:#6b767d;letter-spacing:0.122px;-webkit-text-stroke:0.2px #6b767d;">The confidence level for the confidence interval is set at 95%</div>
</body></html>
